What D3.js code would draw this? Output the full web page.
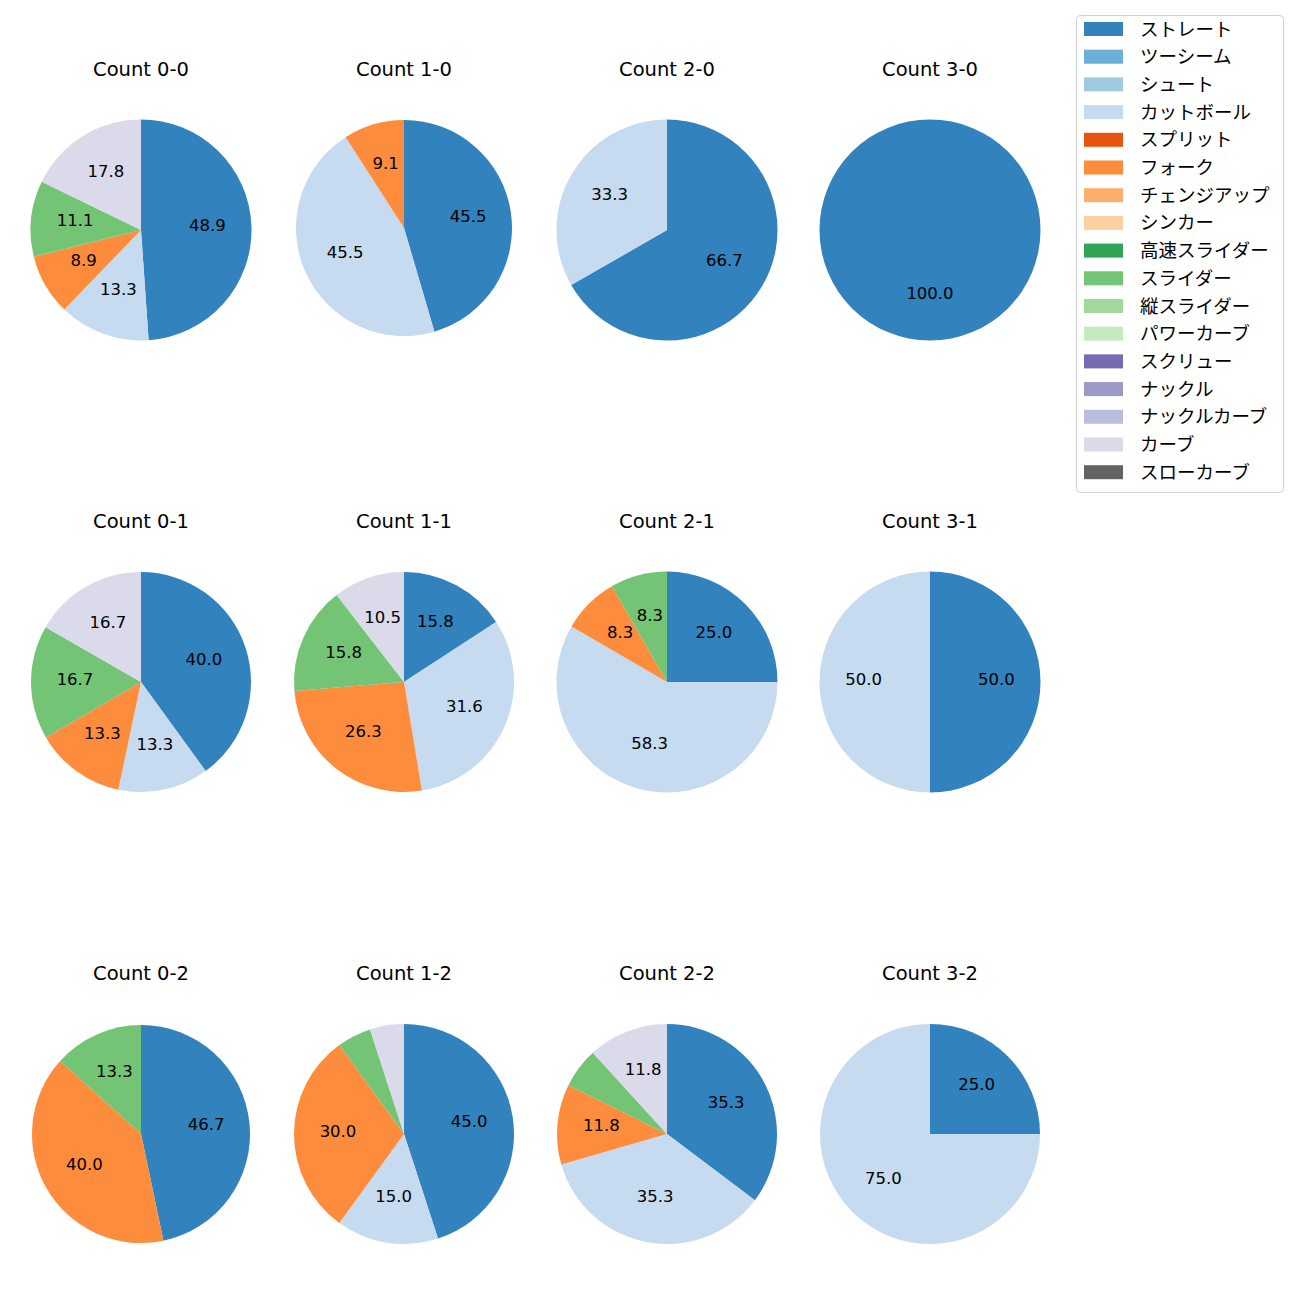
<!DOCTYPE html>
<html>
<head>
<meta charset="utf-8">
<script src="https://cdn.jsdelivr.net/npm/d3@7"></script>
<style>
  body { margin: 0; background: #fff; }
  text { font-family: "DejaVu Sans", "Noto Sans CJK JP", sans-serif; }
</style>
</head>
<body>
<div id="wrapper"></div>
<script>
const pitchTypes = ["ストレート", "ツーシーム", "シュート", "カットボール", "スプリット", "フォーク",
  "チェンジアップ", "シンカー", "高速スライダー", "スライダー", "縦スライダー", "パワーカーブ",
  "スクリュー", "ナックル", "ナックルカーブ", "カーブ", "スローカーブ"];
const pitchColors = ["#3182bd", "#6baed6", "#9ecae1", "#c6dbef", "#e6550d", "#fd8d3c",
  "#fdae6b", "#fdd0a2", "#31a354", "#74c476", "#a1d99b", "#c7e9c0",
  "#756bb1", "#9e9ac8", "#bcbddc", "#dadaeb", "#636363"];

const countTitles = ["Count 0-0", "Count 1-0", "Count 2-0", "Count 3-0",
  "Count 0-1", "Count 1-1", "Count 2-1", "Count 3-1",
  "Count 0-2", "Count 1-2", "Count 2-2", "Count 3-2"];

// share (%) per count, order: ストレート, カットボール, フォーク, スライダー, カーブ
const straightPct = [48.9, 45.5, 66.7, 100, 40.0, 15.8, 25.0, 50.0, 46.7, 45.0, 35.3, 25.0];
const cutterPct   = [13.3, 45.5, 33.3, 0, 13.3, 31.6, 58.3, 50.0, 0, 15.0, 35.3, 75.0];
const forkPct     = [8.9, 9.1, 0, 0, 13.3, 26.3, 8.3, 0, 40.0, 30.0, 11.8, 0];
const sliderPct   = [11.1, 0, 0, 0, 16.7, 15.8, 8.3, 0, 13.3, 5.0, 5.9, 0];
const curvePct    = [17.8, 0, 0, 0, 16.7, 10.5, 0, 0, 0, 5.0, 11.8, 0];

const seriesNames = ["ストレート", "カットボール", "フォーク", "スライダー", "カーブ"];
const seriesValues = [straightPct, cutterPct, forkPct, sliderPct, curvePct];

const dimensions = {
  width: 1300,
  height: 1300,
  colX: [141, 404, 667, 930],
  rowY: [230, 682, 1134],
  radius: [110.5, 108, 110.5, 110.5, 110, 110, 110.5, 110.5, 109, 110, 110, 110],
  centerShift: [0, -2, 0, 0, 0, 0, 0, 0, 0, 0, 0, 0],
  titleOffset: -154,
};

const color = d3.scaleOrdinal().domain(pitchTypes).range(pitchColors);

const svg = d3.select("#wrapper")
  .append("svg")
  .attr("width", dimensions.width)
  .attr("height", dimensions.height);

const pie = d3.pie().sort(null).value((d) => d.value);

countTitles.forEach((title, i) => {
  const cx = dimensions.colX[i % 4];
  const cy = dimensions.rowY[Math.floor(i / 4)];
  const r = dimensions.radius[i];
  const arc = d3.arc().innerRadius(0).outerRadius(r);
  const labelArc = d3.arc().innerRadius(r * 0.6).outerRadius(r * 0.6);

  const slices = seriesNames
    .map((name, s) => ({ name, value: seriesValues[s][i] }))
    .filter((d) => d.value > 0);

  svg.append("text")
    .attr("x", cx)
    .attr("y", cy + dimensions.titleOffset)
    .attr("text-anchor", "middle")
    .attr("font-size", 19.5)
    .attr("fill", "#000")
    .text(title);

  const g = svg.append("g")
    .attr("transform", `translate(${cx},${cy + dimensions.centerShift[i]})`);

  const arcs = pie(slices);

  g.selectAll("path")
    .data(arcs)
    .join("path")
    .attr("d", arc)
    .attr("fill", (d) => color(d.data.name));

  g.selectAll("text.pct")
    .data(arcs.filter((d) => d.data.value >= 6))
    .join("text")
    .attr("class", "pct")
    .attr("transform", (d) => `translate(${labelArc.centroid(d)})`)
    .attr("text-anchor", "middle")
    .attr("dy", 3)
    .attr("font-size", 16.5)
    .attr("fill", "#000")
    .text((d) => d.data.value.toFixed(1));
});

// legend
const legend = svg.append("g").attr("transform", "translate(1076,15)");
legend.append("rect")
  .attr("x", 0.5)
  .attr("y", 0.5)
  .attr("width", 207)
  .attr("height", 477)
  .attr("rx", 4)
  .attr("fill", "#fff")
  .attr("stroke", "#d0d0d0");

const item = legend.selectAll("g.item")
  .data(pitchTypes)
  .join("g")
  .attr("class", "item")
  .attr("transform", (d, i) => `translate(0,${14 + i * 27.7})`);

item.append("rect")
  .attr("x", 8)
  .attr("y", -7)
  .attr("width", 39)
  .attr("height", 14)
  .attr("fill", (d) => color(d));

item.append("text")
  .attr("x", 64)
  .attr("y", 0)
  .attr("dominant-baseline", "central")
  .attr("font-size", 18.5)
  .attr("fill", "#000")
  .text((d) => d);
</script>
</body>
</html>
